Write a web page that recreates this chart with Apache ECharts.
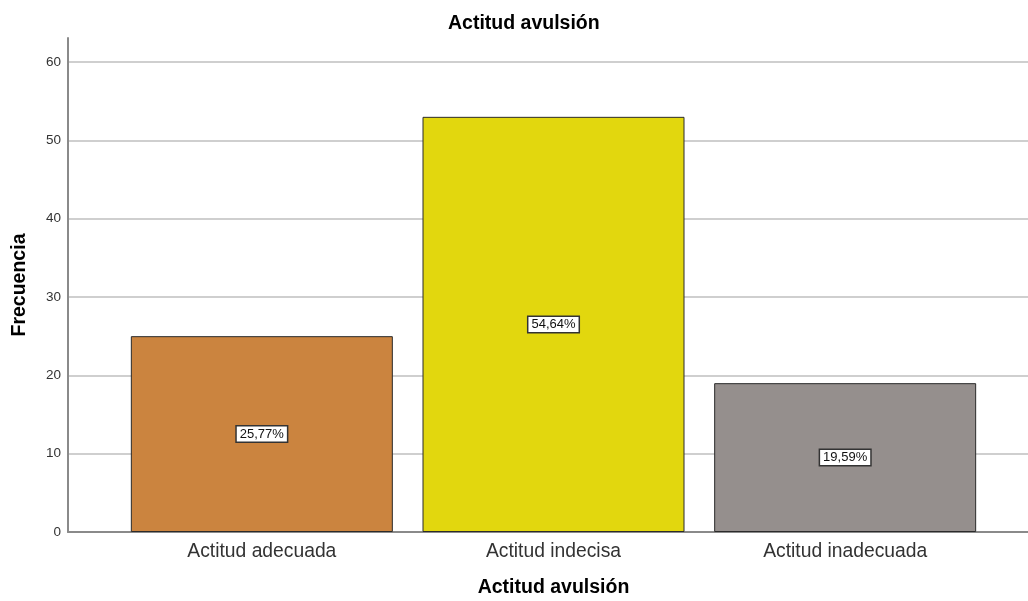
<!DOCTYPE html>
<html>
<head>
<meta charset="utf-8">
<script src="https://cdn.jsdelivr.net/npm/echarts@6/dist/echarts.min.js"></script>
<style>
  html, body { margin: 0; padding: 0; background: #fff; }
  #chart { width: 1028px; height: 601px; }
</style>
</head>
<body>
<div id="chart"></div>
<script>
// Frecuencias de la actitud ante la avulsión
const categories = ['Actitud adecuada', 'Actitud indecisa', 'Actitud inadecuada'];
const counts = [25, 53, 19];
const percentLabels = ['25,77%', '54,64%', '19,59%'];
const barColors = ['#CB843F', '#E2D70E', '#958F8D'];
const yTicks = { min: 0, max: 60, step: 10 };

const FONT = '"Liberation Sans", Arial, sans-serif';

const chart = echarts.init(document.getElementById('chart'), null, { renderer: 'canvas' });

chart.setOption({
  animation: false,
  textStyle: { fontFamily: FONT },
  title: {
    text: 'Actitud avulsión',
    left: 443,
    top: 9,
    textStyle: { fontFamily: FONT, fontSize: 19.5, fontWeight: 'bold', color: '#000' }
  },
  grid: [
    // gridlines + tick labels
    { left: 68, right: 0, top: 62, bottom: 69, outerBoundsMode: 'none', containLabel: false },
    // full-height vertical axis line with its title
    { left: 68, right: 0, top: 38, bottom: 69, outerBoundsMode: 'none', containLabel: false },
    // bars
    { left: 116, right: 37, top: 62, bottom: 69, outerBoundsMode: 'none', containLabel: false }
  ],
  xAxis: [
    {
      gridIndex: 0, type: 'value', min: 0, max: 1,
      axisLine: { show: true, lineStyle: { color: '#8a8a8a', width: 2 } },
      axisTick: { show: false }, axisLabel: { show: false }, splitLine: { show: false }
    },
    {
      gridIndex: 1, type: 'value', min: 0, max: 1, show: false
    },
    {
      gridIndex: 2, type: 'category', data: categories,
      axisLine: { show: false }, axisTick: { show: false },
      axisLabel: { fontFamily: FONT, fontSize: 19.3, color: '#333', margin: 10 },
      name: 'Actitud avulsión',
      nameLocation: 'middle',
      nameGap: 46,
      nameTextStyle: { fontFamily: FONT, fontSize: 19.5, fontWeight: 'bold', color: '#000' }
    }
  ],
  yAxis: [
    {
      gridIndex: 0, type: 'value', min: yTicks.min, max: yTicks.max, interval: yTicks.step,
      axisLine: { show: false }, axisTick: { show: false },
      axisLabel: { fontFamily: FONT, fontSize: 13.5, color: '#333', margin: 7, padding: [6, 0, 0, 0] },
      splitLine: { show: true, lineStyle: { color: '#cfcfcf', width: 2 } }
    },
    {
      gridIndex: 1, type: 'value', min: 0, max: 1,
      axisLine: { show: true, lineStyle: { color: '#8a8a8a', width: 2 } },
      axisTick: { show: false }, axisLabel: { show: false }, splitLine: { show: false },
      name: 'Frecuencia',
      nameLocation: 'middle',
      nameRotate: 90,
      nameGap: 38,
      nameTextStyle: { fontFamily: FONT, fontSize: 19.5, fontWeight: 'bold', color: '#000' }
    },
    {
      gridIndex: 2, type: 'value', min: yTicks.min, max: yTicks.max, show: false
    }
  ],
  series: [{
    type: 'bar',
    xAxisIndex: 2,
    yAxisIndex: 2,
    barWidth: 262,
    data: counts.map((v, i) => ({
      value: v,
      itemStyle: { color: barColors[i] }
    })),
    itemStyle: { borderColor: '#2b2b2b', borderWidth: 1 },
    label: {
      show: true,
      position: 'inside',
      formatter: p => percentLabels[p.dataIndex],
      fontFamily: FONT,
      fontSize: 13,
      color: '#111',
      backgroundColor: '#fff',
      borderColor: '#333',
      borderWidth: 1.5,
      padding: [1, 3, 1, 3]
    }
  }]
});
</script>
</body>
</html>
